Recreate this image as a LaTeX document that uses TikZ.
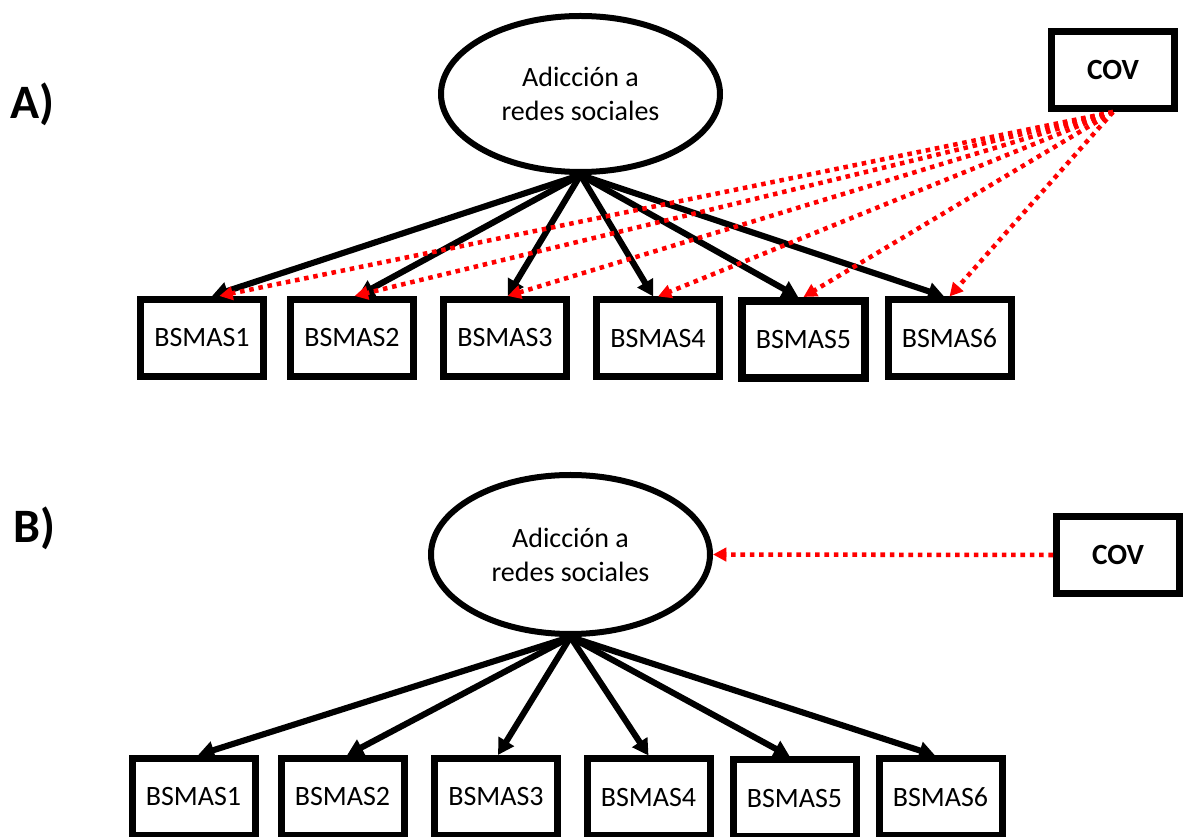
\documentclass[tikz,border=0pt]{standalone}
\usepackage{fontspec}
\setmainfont{Carlito}
\usetikzlibrary{arrows.meta,shapes.geometric}
\begin{document}
\begin{tikzpicture}[x=0.75pt,y=-0.75pt,
  box/.style={draw,line width=5.25pt,minimum width=92.25pt,minimum height=57.75pt,inner sep=0pt,font=\fontsize{21}{25}\selectfont},
  latent/.style={draw,ellipse,line width=4.5pt,minimum width=209.25pt,inner sep=0pt,align=center,font=\fontsize{21}{25.5}\selectfont},
  covbox/.style={box,font=\bfseries\fontsize{22}{26}\selectfont},
  panel/.style={font=\bfseries\fontsize{36}{40}\selectfont,anchor=base west,inner sep=0pt},
  load/.style={line width=4.6pt,-{Triangle[length=12pt,width=13pt]}},
  covpath/.style={red,line width=3.4pt,dash pattern=on 3.4pt off 3.6pt,-{Triangle[length=10pt,width=10pt]}}]

\useasboundingbox (0,0) rectangle (1183,837);
\clip (0,0) rectangle (1183,837);

% ---------- Panel A ----------
\node[panel] (la) at (10,119) {A)};
\node[latent,minimum height=117pt] (e1) at (580.5,94) {Adicción a\\redes sociales};
\node[covbox] (c1) at (1113,70) {COV};
\node[box] (a1) at (202,338) {BSMAS1};
\node[box] (a2) at (352,338) {BSMAS2};
\node[box] (a3) at (505,338) {BSMAS3};
\node[box] (a4) at (658,338.5) {BSMAS4};
\node[box,line width=6pt] (a5) at (803.5,339.5) {BSMAS5};
\node[box] (a6) at (949.5,338.5) {BSMAS6};

\draw[load] (e1.south) -- ([xshift=7.5pt]a1.north);
\draw[load] (e1.south) -- ([xshift=4.5pt]a2.north);
\draw[load] (e1.south) -- ([xshift=2pt]a3.north);
\draw[load] (e1.south) -- ([xshift=-3.5pt]a4.north);
\draw[load] (e1.south) -- ([xshift=-4pt]a5.north);
\draw[load] (e1.south) -- ([xshift=-4pt]a6.north);

\draw[covpath] (c1.south) -- ([xshift=13pt]a1.north);
\draw[covpath] (c1.south) -- ([xshift=2pt]a2.north);
\draw[covpath] (c1.south) -- ([xshift=2pt]a3.north);
\draw[covpath] (c1.south) -- (a4.north);
\draw[covpath] (c1.south) -- (a5.north);
\draw[covpath] (c1.south) -- (a6.north);

% ---------- Panel B ----------
\node[panel] (lb) at (13,543) {B)};
\node[latent,minimum height=119.25pt] (e2) at (570.5,554.5) {Adicción a\\redes sociales};
\node[covbox] (c2) at (1118,555) {COV};
\node[box] (b1) at (193.5,797) {BSMAS1};
\node[box] (b2) at (342.5,797) {BSMAS2};
\node[box] (b3) at (496,797) {BSMAS3};
\node[box] (b4) at (648.5,797.5) {BSMAS4};
\node[box] (b5) at (794.5,798.5) {BSMAS5};
\node[box] (b6) at (940.5,797.5) {BSMAS6};

\draw[load] (e2.south) -- ([xshift=3.5pt]b1.north);
\draw[load] (e2.south) -- ([xshift=3.5pt]b2.north);
\draw[load] (e2.south) -- ([xshift=1.5pt]b3.north);
\draw[load] (e2.south) -- (b4.north);
\draw[load] (e2.south) -- ([xshift=-3.5pt]b5.north);
\draw[load] (e2.south) -- ([xshift=-4pt]b6.north);

\draw[covpath] (c2.west) -- (e2.east);
\end{tikzpicture}
\end{document}
